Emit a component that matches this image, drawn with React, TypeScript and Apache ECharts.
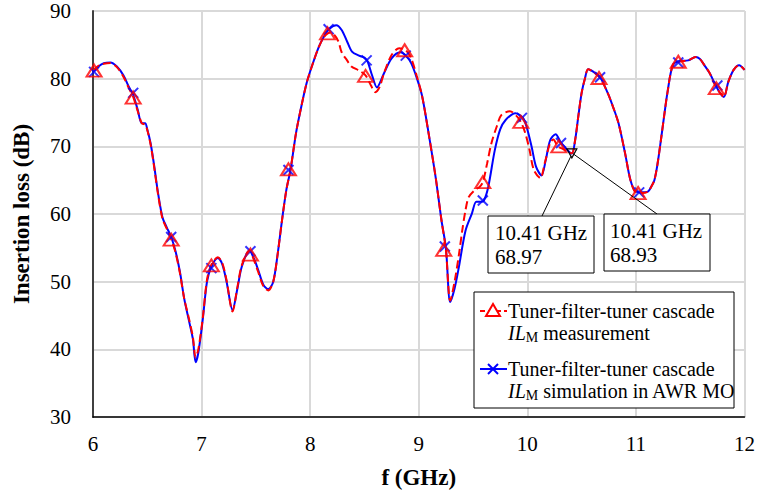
import React, { useEffect, useRef } from "react";
import * as echarts from "echarts";

// Frequency (GHz) and insertion loss (dB), simulation (AWR MO)
const simF = [6.0, 6.05, 6.1, 6.16, 6.22, 6.28, 6.33, 6.37, 6.41, 6.45, 6.48, 6.5, 6.53, 6.56, 6.6, 6.64, 6.68, 6.72, 6.76, 6.8, 6.84, 6.88, 6.92, 6.945, 6.97, 7.01, 7.05, 7.09, 7.15, 7.19, 7.23, 7.285, 7.33, 7.37, 7.44, 7.48, 7.52, 7.57, 7.615, 7.66, 7.7, 7.74, 7.78, 7.82, 7.87, 7.92, 7.97, 8.03, 8.08, 8.13, 8.18, 8.24, 8.29, 8.34, 8.385, 8.45, 8.5, 8.53, 8.57, 8.615, 8.68, 8.75, 8.83, 8.88, 8.93, 8.98, 9.03, 9.09, 9.155, 9.21, 9.25, 9.29, 9.33, 9.37, 9.43, 9.49, 9.53, 9.57, 9.6, 9.64, 9.7, 9.75, 9.8, 9.89, 9.96, 10.0, 10.04, 10.08, 10.13, 10.17, 10.21, 10.26, 10.31, 10.36, 10.41, 10.44, 10.47, 10.5, 10.53, 10.56, 10.61, 10.67, 10.74, 10.79, 10.84, 10.9, 10.95, 11.0, 11.06, 11.11, 11.14, 11.17, 11.2, 11.23, 11.26, 11.29, 11.34, 11.4, 11.48, 11.55, 11.59, 11.63, 11.68, 11.72, 11.77, 11.81, 11.85, 11.9, 11.95, 12.0];
const simIL = [81.0, 81.8, 82.3, 82.4, 81.8, 80.5, 78.8, 77.6, 75.5, 73.4, 73.4, 72.5, 70.5, 67.5, 63.0, 59.5, 58.0, 56.6, 54.5, 51.5, 47.5, 44.5, 41.5, 38.1, 39.5, 44.3, 50.0, 52.2, 53.5, 52.6, 50.0, 45.8, 49.0, 52.2, 54.6, 53.5, 51.8, 49.5, 48.9, 50.0, 54.0, 59.0, 63.5, 66.6, 72.0, 76.0, 79.5, 82.5, 84.7, 86.3, 87.4, 87.9, 87.2, 85.5, 84.0, 83.4, 83.1, 82.5, 80.5, 78.7, 80.8, 83.0, 83.9, 83.4, 82.3, 80.2, 77.5, 72.0, 65.5, 59.0, 55.0, 47.0, 49.0, 52.2, 57.5, 60.1, 61.8, 61.8, 62.0, 64.0, 69.4, 72.5, 73.9, 74.9, 74.2, 72.5, 69.9, 67.0, 65.7, 68.0, 70.9, 71.8, 70.5, 69.6, 68.93, 70.9, 74.5, 77.9, 80.0, 81.4, 81.0, 80.2, 77.9, 75.8, 73.4, 69.0, 65.0, 63.3, 63.2, 63.3, 64.0, 65.0, 67.5, 70.9, 74.5, 77.9, 82.0, 82.6, 82.7, 83.2, 82.9, 82.0, 80.8, 79.5, 78.0, 77.3, 79.5, 81.3, 82.0, 81.3];

// Measurement
const measF = [6.0, 6.05, 6.1, 6.16, 6.22, 6.28, 6.33, 6.37, 6.41, 6.45, 6.48, 6.5, 6.53, 6.56, 6.6, 6.64, 6.68, 6.72, 6.76, 6.8, 6.84, 6.88, 6.92, 6.945, 6.97, 7.01, 7.05, 7.09, 7.15, 7.19, 7.23, 7.285, 7.33, 7.37, 7.44, 7.48, 7.52, 7.57, 7.615, 7.66, 7.7, 7.74, 7.78, 7.82, 7.87, 7.92, 7.97, 8.03, 8.08, 8.13, 8.18, 8.22, 8.26, 8.29, 8.34, 8.38, 8.45, 8.51, 8.56, 8.6, 8.64, 8.68, 8.75, 8.82, 8.88, 8.93, 8.98, 9.03, 9.09, 9.155, 9.21, 9.25, 9.29, 9.33, 9.37, 9.4, 9.43, 9.46, 9.52, 9.56, 9.59, 9.63, 9.67, 9.72, 9.76, 9.84, 9.9, 9.94, 9.98, 10.02, 10.06, 10.12, 10.16, 10.21, 10.24, 10.28, 10.33, 10.37, 10.41, 10.44, 10.47, 10.5, 10.53, 10.56, 10.61, 10.67, 10.74, 10.79, 10.84, 10.9, 10.95, 11.0, 11.06, 11.11, 11.14, 11.17, 11.2, 11.23, 11.26, 11.29, 11.34, 11.4, 11.48, 11.55, 11.59, 11.63, 11.68, 11.72, 11.77, 11.81, 11.85, 11.9, 11.95, 12.0];
const measIL = [81.2, 81.9, 82.2, 82.3, 81.7, 80.3, 78.6, 77.3, 75.3, 73.4, 73.2, 72.4, 70.3, 67.3, 62.8, 59.3, 57.8, 56.3, 54.3, 51.3, 47.5, 44.8, 41.8, 38.8, 40.0, 44.5, 50.3, 52.5, 53.6, 52.8, 50.2, 45.6, 49.2, 52.4, 54.6, 53.3, 51.5, 49.3, 48.7, 50.0, 54.0, 59.0, 63.5, 66.7, 72.0, 76.0, 79.5, 82.5, 84.7, 86.2, 86.8, 86.5, 85.5, 83.9, 82.7, 81.8, 81.2, 80.5, 79.0, 78.0, 78.8, 80.8, 83.5, 84.5, 84.2, 83.0, 80.5, 77.5, 72.0, 65.5, 59.0, 54.7, 47.2, 50.0, 54.0, 57.5, 60.5, 62.5, 63.6, 64.0, 64.7, 67.5, 70.5, 73.0, 74.6, 75.2, 74.5, 73.6, 72.0, 69.5, 66.5, 65.3, 67.5, 70.5, 71.0, 70.0, 69.6, 69.2, 68.97, 70.9, 74.5, 77.9, 80.0, 81.4, 81.0, 80.1, 77.9, 75.8, 73.4, 69.0, 65.0, 63.2, 63.1, 63.3, 64.0, 65.0, 67.5, 70.9, 74.5, 77.9, 82.0, 82.5, 82.7, 83.2, 82.9, 82.0, 80.8, 79.3, 78.0, 77.3, 79.5, 81.3, 82.0, 81.3];

// Marker points
const measMarkF = [6.01, 6.37, 6.72, 7.09, 7.45, 7.8, 8.16, 8.51, 8.87, 9.23, 9.59, 9.94, 10.29, 10.66, 11.02, 11.39, 11.74];
const measMarkIL = [81.2, 77.2, 56.2, 52.4, 54.0, 66.6, 86.7, 80.4, 84.2, 54.7, 64.7, 73.6, 70.0, 80.1, 63.1, 82.5, 78.6];
const simMarkF = [6.01, 6.37, 6.72, 7.09, 7.45, 7.8, 8.17, 8.52, 8.88, 9.24, 9.59, 9.95, 10.31, 10.67, 11.03, 11.39, 11.75];
const simMarkIL = [81.0, 77.9, 56.6, 52.0, 54.5, 66.5, 87.3, 82.7, 83.4, 55.2, 62.0, 74.2, 70.5, 80.2, 63.2, 82.4, 79.0];

// Annotations
const annF = [10.41, 10.41];
const annIL = [68.97, 68.93];

const FONT = "Liberation Serif";
const RED = "#ff0000";
const BLUE = "#0000ff";

const zip = (a: number[], b: number[]) => a.map((v, i) => [v, b[i]]);

export default function App() {
  const ref = useRef<HTMLDivElement>(null);
  useEffect(() => {
    const chart = echarts.init(ref.current!, null, { renderer: "svg" });
    const crossPath = "path://M0,0L10,10M10,0L0,10";
    chart.setOption({
      animation: false,
      backgroundColor: "#ffffff",
      textStyle: { fontFamily: FONT },
      grid: {
        left: 93, right: 11, top: 11, bottom: 78,
        show: true, borderColor: "#808080", borderWidth: 1, backgroundColor: "transparent",
      },
      xAxis: {
        type: "value", min: 6, max: 12, interval: 1,
        name: "f (GHz)", nameLocation: "middle", nameGap: 49,
        nameTextStyle: { fontFamily: FONT, fontSize: 23, fontWeight: "bold", color: "#000" },
        axisLine: { show: true, onZero: false, lineStyle: { color: "#000", width: 1.5 } },
        axisTick: { show: false },
        axisLabel: { margin: 16, fontFamily: FONT, fontSize: 21, color: "#000" },
        splitLine: { show: true, lineStyle: { color: "#d9d9d9", width: 2 } },
      },
      yAxis: {
        type: "value", min: 30, max: 90, interval: 10,
        name: "Insertion loss (dB)", nameLocation: "middle", nameGap: 60,
        nameTextStyle: { fontFamily: FONT, fontSize: 23, fontWeight: "bold", color: "#000" },
        axisLine: { show: true, onZero: false, lineStyle: { color: "#404040", width: 2 } },
        axisTick: { show: false },
        axisLabel: { margin: 22, fontFamily: FONT, fontSize: 21, color: "#000" },
        splitLine: { show: true, lineStyle: { color: "#d9d9d9", width: 2 } },
      },
      series: [
        {
          name: "sim", type: "line", data: zip(simF, simIL), smooth: 0.3, showSymbol: false,
          lineStyle: { color: BLUE, width: 2 }, z: 2,
        },
        {
          name: "meas", type: "line", data: zip(measF, measIL), smooth: 0.3, showSymbol: false,
          lineStyle: { color: RED, width: 2, type: [8, 4] }, z: 3,
        },
        {
          name: "simMarks", type: "scatter", data: zip(simMarkF, simMarkIL),
          symbol: crossPath, symbolSize: 10,
          itemStyle: { color: "none", borderColor: BLUE, borderWidth: 2 }, z: 4,
        },
        {
          name: "measMarks", type: "scatter", data: zip(measMarkF, measMarkIL),
          symbol: "triangle", symbolSize: [15, 12],
          itemStyle: { color: "none", borderColor: RED, borderWidth: 2 }, z: 5,
        },
        {
          name: "ann", type: "scatter", data: zip(annF, annIL),
          symbol: "triangle", symbolRotate: 180, symbolSize: [10, 9],
          itemStyle: { color: "none", borderColor: "#000", borderWidth: 1 }, z: 6,
        },
      ],
    });

    const p1 = chart.convertToPixel({ gridIndex: 0 }, [annF[0], annIL[0]]) as number[];
    const p2 = chart.convertToPixel({ gridIndex: 0 }, [annF[1], annIL[1]]) as number[];
    const txt = { fontFamily: FONT, fontSize: 21, fill: "#000" };
    const leg = { fontFamily: FONT, fontSize: 20, fill: "#000" };
    const rich = {
      i: { fontFamily: FONT, fontSize: 20, fontStyle: "italic", color: "#000" },
      s: { fontFamily: FONT, fontSize: 14, color: "#000", padding: [8, 0, 0, 0] },
      n: { fontFamily: FONT, fontSize: 20, color: "#000" },
    };
    chart.setOption({
      graphic: [
        { type: "line", z: 100, shape: { x1: 542, y1: 216, x2: p1[0] - 1, y2: p1[1] + 3 }, style: { stroke: "#000", lineWidth: 1 } },
        { type: "line", z: 100, shape: { x1: 657, y1: 214, x2: p2[0] + 1, y2: p2[1] }, style: { stroke: "#000", lineWidth: 1 } },
        { type: "rect", z: 100, shape: { x: 488, y: 216, width: 106, height: 57 }, style: { fill: "#fff", stroke: "#000", lineWidth: 1 } },
        { type: "text", z: 101, x: 495, y: 233, style: { ...txt, text: "10.41 GHz", verticalAlign: "middle" } },
        { type: "text", z: 101, x: 495, y: 257, style: { ...txt, text: "68.97", verticalAlign: "middle" } },
        { type: "rect", z: 100, shape: { x: 604, y: 214, width: 106, height: 57 }, style: { fill: "#fff", stroke: "#000", lineWidth: 1 } },
        { type: "text", z: 101, x: 610, y: 231, style: { ...txt, text: "10.41 GHz", verticalAlign: "middle" } },
        { type: "text", z: 101, x: 610, y: 255, style: { ...txt, text: "68.93", verticalAlign: "middle" } },
        // legend
        { type: "rect", z: 100, shape: { x: 474, y: 292, width: 260, height: 116 }, style: { fill: "#fff", stroke: "#000", lineWidth: 1 } },
        { type: "line", z: 101, shape: { x1: 480, y1: 311, x2: 507, y2: 311 }, style: { stroke: RED, lineWidth: 2, lineDash: [5, 3] } },
        { type: "polygon", z: 102, shape: { points: [[486, 316], [500, 316], [493, 304]] }, style: { fill: "#fff", stroke: RED, lineWidth: 2 } },
        { type: "text", z: 101, x: 508, y: 311, style: { ...leg, text: "Tuner-filter-tuner cascade", verticalAlign: "middle" } },
        { type: "text", z: 101, x: 508, y: 333, style: { ...leg, text: "{i|IL}{s|M}{n| measurement}", rich, verticalAlign: "middle" } },
        { type: "line", z: 101, shape: { x1: 480, y1: 369, x2: 507, y2: 369 }, style: { stroke: BLUE, lineWidth: 2 } },
        { type: "line", z: 102, shape: { x1: 488, y1: 364, x2: 498, y2: 374 }, style: { stroke: BLUE, lineWidth: 2 } },
        { type: "line", z: 102, shape: { x1: 498, y1: 364, x2: 488, y2: 374 }, style: { stroke: BLUE, lineWidth: 2 } },
        { type: "text", z: 101, x: 508, y: 369, style: { ...leg, text: "Tuner-filter-tuner cascade", verticalAlign: "middle" } },
        { type: "text", z: 101, x: 508, y: 391, style: { ...leg, text: "{i|IL}{s|M}{n| simulation in AWR MO}", rich, verticalAlign: "middle" } },
      ],
    });
    return () => chart.dispose();
  }, []);
  return (
    <div
      ref={ref}
      style={{ position: "fixed", left: 0, top: 0, width: 758, height: 495, background: "#fff" }}
    />
  );
}
